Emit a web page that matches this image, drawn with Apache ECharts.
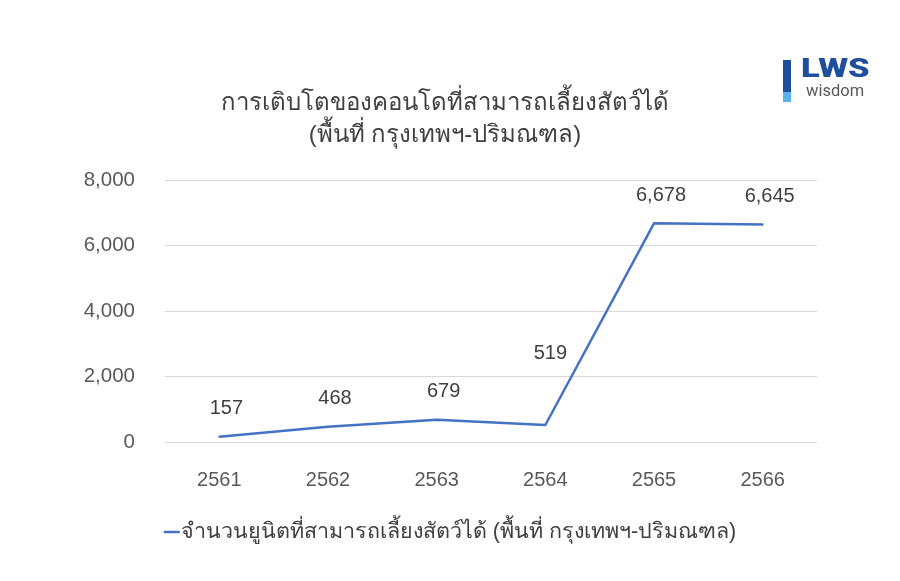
<!DOCTYPE html>
<html><head><meta charset="utf-8">
<script src="https://cdn.jsdelivr.net/npm/echarts@6/dist/echarts.min.js"></script>
<style>html,body{margin:0;padding:0;background:#fff}#c{width:900px;height:581px}</style>
</head><body><div id="c"></div>
<script>
var categories = ['2561','2562','2563','2564','2565','2566'];
var values = [157, 468, 679, 519, 6678, 6645];
var yTicks = [0, 2000, 4000, 6000, 8000];
var seriesName = 'จำนวนยูนิตที่สามารถเลี้ยงสัตว์ได้ (พื้นที่ กรุงเทพฯ-ปริมณฑล)';
var titleLines = ['การเติบโตของคอนโดที่สามารถเลี้ยงสัตว์ได้', '(พื้นที่ กรุงเทพฯ-ปริมณฑล)'];

var FONT = '"Liberation Sans", Arial, sans-serif';
var chart = echarts.init(document.getElementById('c'));
var data = values.map(function(v, i){
  var item = {value: v};
  if (i === 3) item.label = {offset: [5, -44]};
  return item;
});
chart.setOption({
  animation: false,
  title: {
    text: titleLines.join('\n'),
    left: 440, top: 82, textAlign: 'center',
    textStyle: {fontFamily: FONT, fontSize: 24, fontWeight: 'normal', color: '#404040', lineHeight: 32}
  },
  grid: {left: 165, right: 83, top: 180, bottom: 139},
  xAxis: {
    type: 'category', data: categories, boundaryGap: true,
    axisLine: {show: false}, axisTick: {show: false},
    axisLabel: {fontFamily: FONT, fontSize: 20, color: '#595959', margin: 28}
  },
  yAxis: {
    type: 'value', min: yTicks[0], max: yTicks[yTicks.length-1], interval: 2000,
    axisLine: {show: false}, axisTick: {show: false},
    splitLine: {lineStyle: {color: '#d9d9d9', width: 1}},
    axisLabel: {fontFamily: FONT, fontSize: 20.5, color: '#595959', margin: 30,
      formatter: function(v){ return v.toLocaleString('en-US'); }}
  },
  legend: {
    bottom: 33, left: 'center', itemWidth: 16, itemHeight: 2.5, itemGap: 4,
    icon: 'rect',
    textStyle: {fontFamily: FONT, fontSize: 21.5, color: '#404040', padding: [0,0,0,-4]},
    data: [seriesName]
  },
  series: [{
    name: seriesName, type: 'line', data: data,
    symbol: 'circle', symbolSize: 2, showSymbol: true,
    lineStyle: {color: '#4472C4', width: 2.5},
    itemStyle: {color: '#4472C4'},
    label: {show: true, position: 'top', distance: 17, offset: [7, 0], fontFamily: FONT, fontSize: 20, color: '#404040',
      formatter: function(p){ return p.value.toLocaleString('en-US'); }}
  }],
  graphic: [
    {type: 'rect', shape: {x: 783, y: 60, width: 8, height: 32}, style: {fill: '#1F4E9A'}},
    {type: 'rect', shape: {x: 783, y: 92, width: 8, height: 10}, style: {fill: '#5BB4E8'}},
    {type: 'text', x: 801, y: 58, scaleX: 1.38, style: {x: 0, y: 0, text: 'LWS', fontFamily: 'Roboto, sans-serif', fontWeight: 900, fontSize: 25, fill: '#1F4E9A'}},
    {type: 'text', style: {x: 806, y: 83, text: 'wisdom', fontFamily: 'Roboto, sans-serif', fontSize: 16.5, fill: '#595959'}}
  ]
});
</script></body></html>
